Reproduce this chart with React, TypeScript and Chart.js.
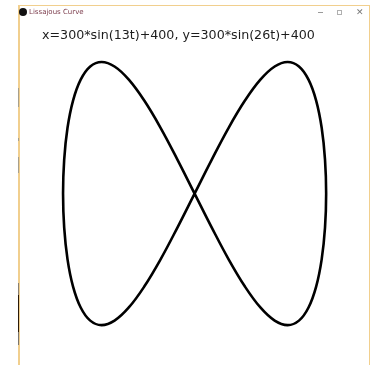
import { useEffect, useRef } from "react";
import { Chart, registerables } from "chart.js";

Chart.register(...registerables);

// Window caption and the plotted equation
const windowTitle = "Lissajous Curve";
const curveTitle = "x=300*sin(13t)+400, y=300*sin(26t)+400";

// Sampled points of the curve in sketch pixel coordinates (800 x 800 sketch)
const curveX = [
  400, 439.2, 477.6, 514.8, 550, 582.6, 612.1, 638.0, 659.8, 677.2, 689.8, 697.4,
  700, 697.4, 689.8, 677.2, 659.8, 638.0, 612.1, 582.6, 550, 514.8, 477.6, 439.2,
  400, 360.8, 322.4, 285.2, 250, 217.4, 187.9, 162.0, 140.2, 122.8, 110.2, 102.6,
  100, 102.6, 110.2, 122.8, 140.2, 162.0, 187.9, 217.4, 250, 285.2, 322.4, 360.8,
  400,
];
const curveY = [
  400, 477.6, 550, 612.1, 659.8, 689.8, 700, 689.8, 659.8, 612.1, 550, 477.6,
  400, 322.4, 250, 187.9, 140.2, 110.2, 100, 110.2, 140.2, 187.9, 250, 322.4,
  400, 477.6, 550, 612.1, 659.8, 689.8, 700, 689.8, 659.8, 612.1, 550, 477.6,
  400, 322.4, 250, 187.9, 140.2, 110.2, 100, 110.2, 140.2, 187.9, 250, 322.4,
  400,
];

// Visible part of the sketch surface
const xRange = [0, 800];
const yRange = [0, 791];

const equationLabel = {
  id: "equationLabel",
  afterDraw(chart: Chart) {
    const ctx = chart.ctx;
    ctx.save();
    ctx.font = '14px "DejaVu Sans"';
    const w = ctx.measureText(curveTitle).width;
    const size = (14 * 273) / w;
    ctx.font = `${size}px "DejaVu Sans"`;
    ctx.fillStyle = "#1c1c1c";
    ctx.textBaseline = "alphabetic";
    ctx.textAlign = "left";
    ctx.fillText(curveTitle, 42, 39);
    ctx.restore();
  },
};

function LissajousChart() {
  const ref = useRef<HTMLCanvasElement | null>(null);
  useEffect(() => {
    if (!ref.current) return;
    const chart = new Chart(ref.current, {
      type: "scatter",
      data: {
        datasets: [
          {
            data: curveX.map((x, i) => ({ x, y: curveY[i] })),
            showLine: true,
            borderColor: "#000000",
            borderWidth: 2.6,
            pointRadius: 0,
            tension: 0.4,
            fill: false,
            clip: false as any,
          },
        ],
      },
      options: {
        animation: false,
        responsive: false,
        events: [],
        layout: { padding: { left: 19.2, top: 18.2, right: 0, bottom: 0 } },
        plugins: { legend: { display: false }, tooltip: { enabled: false } },
        scales: {
          x: { type: "linear", min: xRange[0], max: xRange[1], display: false },
          y: { type: "linear", min: yRange[0], max: yRange[1], reverse: true, display: false },
        },
      },
      plugins: [equationLabel],
    });
    return () => chart.destroy();
  }, []);
  return (
    <canvas
      ref={ref}
      width={370}
      height={365}
      style={{ position: "absolute", left: 0, top: 0, width: 370, height: 365 }}
    />
  );
}

export default function App() {
  const tan = "#f1cf8e";
  return (
    <div
      style={{
        position: "absolute",
        left: 0,
        top: 0,
        width: 370,
        height: 365,
        background: "#ffffff",
        overflow: "hidden",
      }}
    >
      <LissajousChart />
      {/* window frame */}
      <div style={{ position: "absolute", left: 18, top: 5, width: 352, height: 1, background: tan }} />
      <div style={{ position: "absolute", left: 18, top: 5, width: 2, height: 360, background: tan }} />
      <div style={{ position: "absolute", left: 369, top: 5, width: 1, height: 360, background: tan }} />
      <div style={{ position: "absolute", left: 18, top: 88, width: 1, height: 19, background: "#a8a08c" }} />
      <div style={{ position: "absolute", left: 18, top: 138, width: 1, height: 3, background: "#a8a08c" }} />
      <div style={{ position: "absolute", left: 18, top: 157, width: 1, height: 16, background: "#a8a08c" }} />
      <div style={{ position: "absolute", left: 18, top: 283, width: 1, height: 12, background: "#8a8070" }} />
      <div style={{ position: "absolute", left: 18, top: 295, width: 1, height: 37, background: "#2a1a08" }} />
      <div style={{ position: "absolute", left: 18, top: 332, width: 1, height: 13, background: "#7a756c" }} />
      {/* caption bar */}
      <div
        style={{
          position: "absolute",
          left: 19,
          top: 8,
          width: 8,
          height: 8,
          borderRadius: "50%",
          background: "#111",
        }}
      />
      <div
        style={{
          position: "absolute",
          left: 29,
          top: 7,
          fontFamily: '"DejaVu Sans"',
          fontSize: 7,
          lineHeight: "10px",
          color: "#7a3a4a",
          whiteSpace: "nowrap",
        }}
      >
        {windowTitle}
      </div>
      <div style={{ position: "absolute", left: 318, top: 12, width: 5, height: 1, background: "#9a9a9a" }} />
      <div
        style={{
          position: "absolute",
          left: 337,
          top: 10,
          width: 5,
          height: 5,
          border: "1px solid #b0b0b0",
          boxSizing: "border-box",
        }}
      />
      <div
        style={{
          position: "absolute",
          left: 356,
          top: 6,
          fontFamily: '"DejaVu Sans"',
          fontSize: 9,
          lineHeight: "12px",
          color: "#777",
        }}
      >
        ✕
      </div>
    </div>
  );
}
